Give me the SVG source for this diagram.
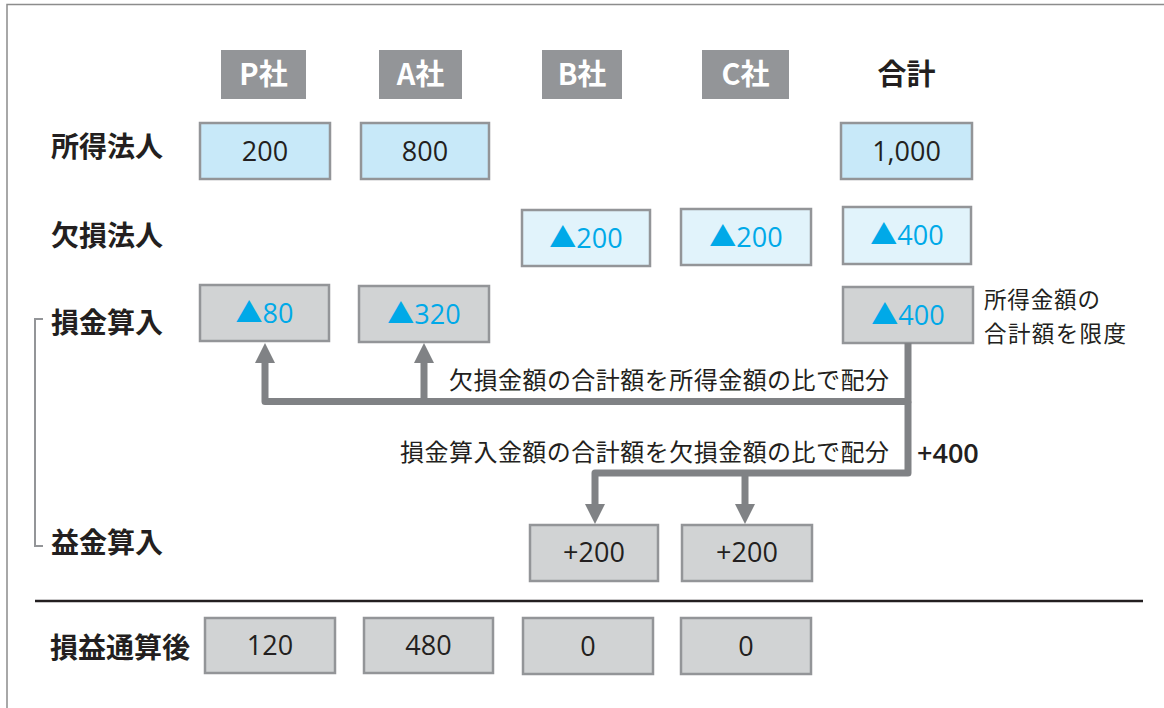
<svg xmlns="http://www.w3.org/2000/svg" width="1164" height="708" viewBox="0 0 1164 708">
<defs>
<style>
text{font-family:"Noto Sans CJK JP","Noto Sans",sans-serif;fill:#231f20}
.hdr rect{fill:#939598}
.hdr text{fill:#fff;font-size:29px;font-weight:700;text-anchor:middle}
.lbl{font-size:28px;font-weight:700}
.b1 rect{fill:#c8e9f9;stroke:#939598;stroke-width:2.5}
.b2 rect{fill:#e1f3fb;stroke:#939598;stroke-width:2.5}
.b3 rect{fill:#d1d3d4;stroke:#939598;stroke-width:2.5}
.num{font-family:"Open Sans","Noto Sans CJK JP",sans-serif;font-size:27px;text-anchor:middle}
.neg{fill:#00a9e8}
.note{font-size:24px}
.conn{fill:none;stroke:#808285;stroke-width:7;stroke-linejoin:round}
</style>
<marker id="ah" viewBox="0 -10 20 20" refX="0" refY="0" markerWidth="20" markerHeight="20" markerUnits="userSpaceOnUse" orient="auto">
<path d="M0,-10 L20,0 L0,10 z" fill="#808285"/>
</marker>
</defs>
<rect width="1164" height="708" fill="#fff"/>
<path d="M7,712 V4.5 H1170" fill="none" stroke="#8c8c8c" stroke-width="1.5"/>

<g id="headers">
<g id="h-P" class="hdr"><rect x="221" y="50" width="85" height="49"/><text x="263.5" y="85">P社</text></g>
<g id="h-A" class="hdr"><rect x="379" y="50" width="83" height="49"/><text x="420.5" y="85">A社</text></g>
<g id="h-B" class="hdr"><rect x="542" y="50" width="80" height="49"/><text x="582" y="85">B社</text></g>
<g id="h-C" class="hdr"><rect x="702" y="50" width="87" height="49"/><text x="745.5" y="85">C社</text></g>
<g id="h-total"><text x="906.5" y="85" style="font-size:29px;font-weight:700;text-anchor:middle">合計</text></g>
</g>

<g id="row-labels">
<text class="lbl" x="51" y="156.5">所得法人</text>
<text class="lbl" x="51" y="245.5">欠損法人</text>
<text class="lbl" x="51" y="332.5">損金算入</text>
<text class="lbl" x="51" y="553">益金算入</text>
<text class="lbl" x="50" y="658">損益通算後</text>
</g>

<path id="bracket" d="M43,319 H35 V546 H43" fill="none" stroke="#939598" stroke-width="2"/>
<path id="separator" d="M35,601 H1143" stroke="#231f20" stroke-width="2.5"/>

<g id="n-P-income" class="b1"><rect x="200" y="123" width="130" height="56"/><text class="num" x="265" y="160.5">200</text></g>
<g id="n-A-income" class="b1"><rect x="361" y="123" width="128" height="56"/><text class="num" x="425" y="160.5">800</text></g>
<g id="n-total-income" class="b1"><rect x="841" y="123" width="131" height="56"/><text class="num" x="906.5" y="160.5">1,000</text></g>

<g id="n-B-loss" class="b2"><rect x="522" y="210" width="128" height="56"/><text class="num neg" x="586" y="247.5">▲200</text></g>
<g id="n-C-loss" class="b2"><rect x="681" y="209" width="130" height="56"/><text class="num neg" x="746" y="246.5">▲200</text></g>
<g id="n-total-loss" class="b2"><rect x="843" y="207" width="128" height="57"/><text class="num neg" x="907" y="245">▲400</text></g>

<g id="n-P-deduct" class="b3"><rect x="200" y="285" width="129" height="56"/><text class="num neg" x="264.5" y="322.5">▲80</text></g>
<g id="n-A-deduct" class="b3"><rect x="359" y="286" width="130" height="56"/><text class="num neg" x="424" y="323.5">▲320</text></g>
<g id="n-total-deduct" class="b3"><rect x="843" y="287" width="130" height="56"/><text class="num neg" x="908" y="324.5">▲400</text></g>

<g id="note-limit">
<text x="984" y="308" style="font-size:22.5px" textLength="116" lengthAdjust="spacing">所得金額の</text>
<text x="984" y="341.5" style="font-size:22.5px" textLength="142" lengthAdjust="spacing">合計額を限度</text>
</g>

<g id="n-B-gain" class="b3"><rect x="530" y="525" width="128" height="56"/><text class="num" x="594" y="562">+200</text></g>
<g id="n-C-gain" class="b3"><rect x="682" y="525" width="130" height="56"/><text class="num" x="747" y="562">+200</text></g>

<g id="n-P-after" class="b3"><rect x="205" y="618" width="130" height="55"/><text class="num" x="270" y="655">120</text></g>
<g id="n-A-after" class="b3"><rect x="364" y="618" width="129" height="55"/><text class="num" x="428.5" y="655">480</text></g>
<g id="n-B-after" class="b3"><rect x="523" y="618" width="130" height="56"/><text class="num" x="588" y="656">0</text></g>
<g id="n-C-after" class="b3"><rect x="681" y="618" width="130" height="56"/><text class="num" x="746" y="656">0</text></g>

<g id="connectors">
<path class="conn" d="M908,343 V401.5 H265 V363" marker-end="url(#ah)"/>
<path class="conn" d="M424,401.5 V363" marker-end="url(#ah)"/>
<path class="conn" d="M908,401.5 V473 H595 V504" marker-end="url(#ah)"/>
<path class="conn" d="M745,473 V504" marker-end="url(#ah)"/>
<text class="note" x="449" y="389" textLength="440" lengthAdjust="spacing">欠損金額の合計額を所得金額の比で配分</text>
<text class="note" x="400" y="461" textLength="489" lengthAdjust="spacing">損金算入金額の合計額を欠損金額の比で配分</text>
<text x="917" y="463" style="font-family:'Open Sans',sans-serif;font-size:27px;font-weight:600">+400</text>
</g>
</svg>
